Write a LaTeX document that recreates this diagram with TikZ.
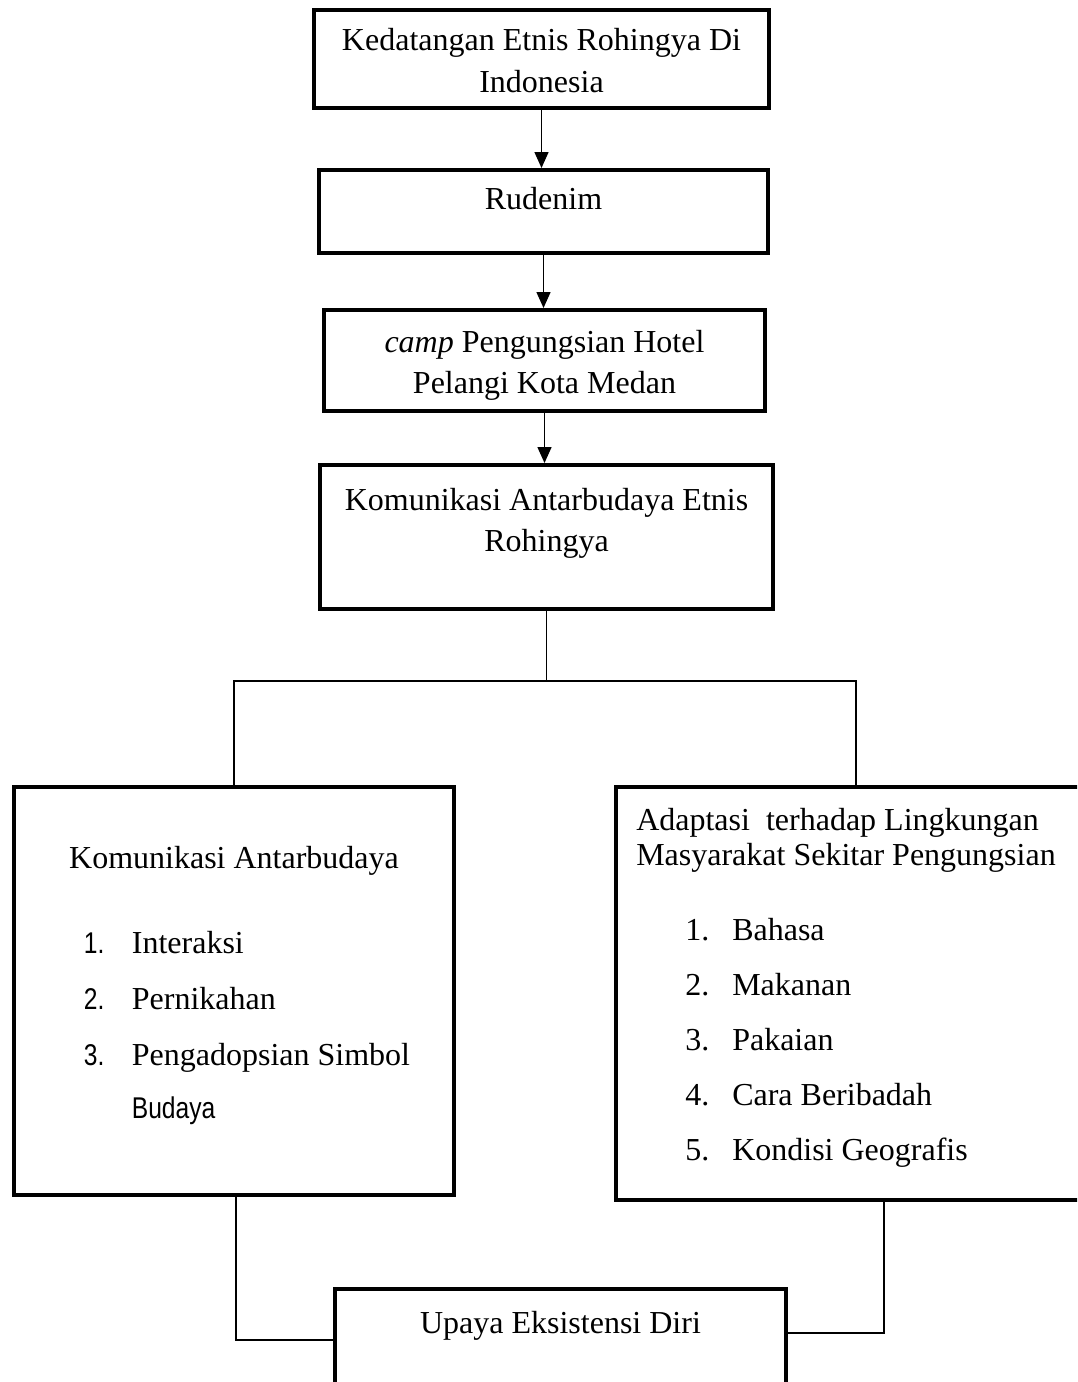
\documentclass[tikz,border=0pt]{standalone}
\usepackage{fontspec}
\setmainfont{Liberation Serif}
\newfontfamily\numfont[FakeStretch=0.82]{Liberation Sans}
\usetikzlibrary{arrows.meta, positioning}

\newcommand{\boxtext}[1]{\begin{tabular}[t]{@{}c@{}}#1\end{tabular}}
\newcommand{\sansnum}[1]{{\numfont\fontsize{30}{41}\selectfont #1}}

\begin{document}
\begin{tikzpicture}[
    x=1pt, y=-1pt,
    % Node styles
    flowbox/.style={
        rectangle,
        draw=black,
        line width=4pt,
        fill=white,
        inner sep=4pt,
        align=center,
        font=\fontsize{32}{41}\selectfont,
        text height=30pt
    },
    arrow/.style={
        -{Triangle[width=14pt, length=16pt]},
        line width=1.5pt,
        black
    },
    link/.style={
        line width=1.5pt,
        black
    }
]

\useasboundingbox (0,0) rectangle (1077,1382);
\clip (0,0) rectangle (1077,1382);

% === Main chain ===
\node[flowbox, minimum width=455pt, minimum height=98pt, text depth=48pt]
    (ked) at (541.5,59) {\boxtext{Kedatangan Etnis Rohingya Di\\[1pt] Indonesia}};
\node[flowbox, minimum width=449pt, minimum height=83pt, text depth=35pt]
    (rud) at (543.5,211.5) {Rudenim};
\node[flowbox, minimum width=441pt, minimum height=101pt, text depth=47pt]
    (camp) at (544.5,360.5) {\boxtext{\textit{camp} Pengungsian Hotel\\ Pelangi Kota Medan}};
\node[flowbox, minimum width=453pt, minimum height=144pt, text depth=84pt]
    (kab) at (546.5,537) {\boxtext{Komunikasi Antarbudaya Etnis\\ Rohingya}};

% === Left branch ===
\node[flowbox, minimum width=440pt, minimum height=408pt, text depth=276pt]
    (kom) at (234,991) {%
    \begin{tabular}[t]{@{\hspace{26pt}}p{48pt}@{}l@{}}
    \multicolumn{2}{@{}c@{}}{Komunikasi Antarbudaya}\\[44pt]
    \sansnum{1.} & Interaksi\\[15pt]
    \sansnum{2.} & Pernikahan\\[15pt]
    \sansnum{3.} & Pengadopsian Simbol\\[12pt]
     & \sansnum{Budaya}
    \end{tabular}};

% === Right branch ===
\node[flowbox, minimum width=484pt, minimum height=413pt, text depth=357pt]
    (ada) at (858,993.5) {%
    \renewcommand{\arraystretch}{0.854}%
    \begin{tabular}[t]{@{\hspace{49pt}}p{47pt}@{}l@{\hspace{24pt}}}
    \multicolumn{2}{@{}l@{\hspace{24pt}}}{Adaptasi~ terhadap Lingkungan}\\
    \multicolumn{2}{@{}l@{\hspace{24pt}}}{Masyarakat Sekitar Pengungsian}\\[40pt]
    1. & Bahasa\\[20pt]
    2. & Makanan\\[20pt]
    3. & Pakaian\\[20pt]
    4. & Cara Beribadah\\[20pt]
    5. & Kondisi Geografis
    \end{tabular}};

% === Result ===
\node[flowbox, minimum width=451pt, minimum height=120pt, text depth=62pt]
    (upa) at (560.5,1349) {Upaya Eksistensi Diri};

% === Arrows ===
\draw[arrow] (ked.south) -- (ked.south |- rud.north);
\draw[arrow] (rud.south) -- (rud.south |- camp.north);
\draw[arrow] (camp.south) -- (camp.south |- kab.north);

% === Split ===
\coordinate (jr) at (856,681);
\draw[link] (kab.south) -- (kab.south |- jr);
\draw[link] (kom.north) |- (jr) -- (jr |- ada.north);

% === Join ===
\coordinate (bl) at (236,1340);
\coordinate (br) at (884,1333);
\draw[link] (bl |- kom.south) -- (bl) -- (bl -| upa.west);
\draw[link] (br |- ada.south) -- (br) -- (br -| upa.east);

\end{tikzpicture}
\end{document}
